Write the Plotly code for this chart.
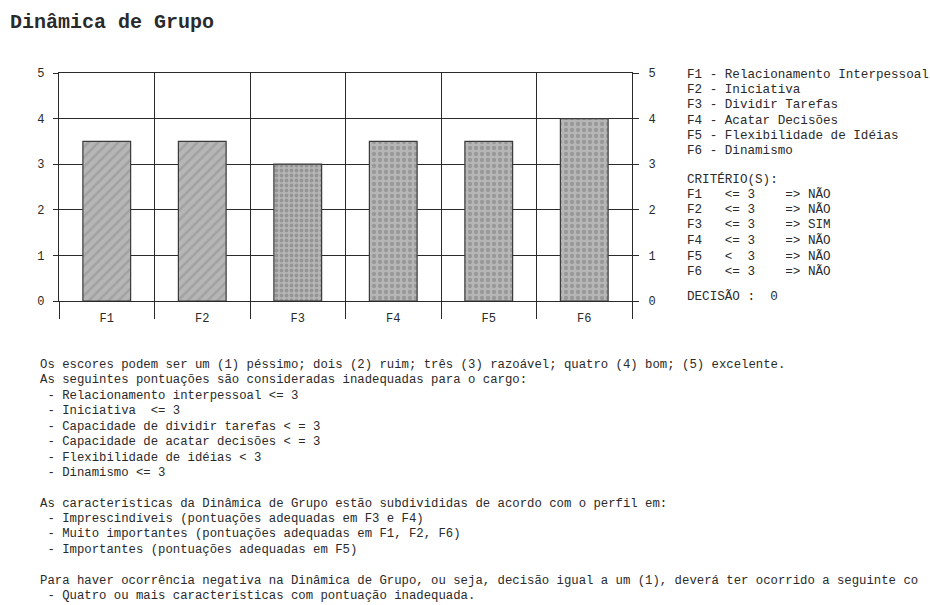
import plotly.graph_objects as go

# ---- data ----
categories = ["F1", "F2", "F3", "F4", "F5", "F6"]
scores = [3.5, 3.5, 3.0, 3.5, 3.5, 4.0]
y_ticks = [0, 1, 2, 3, 4, 5]

legend_lines = [
    "F1 - Relacionamento Interpessoal",
    "F2 - Iniciativa",
    "F3 - Dividir Tarefas",
    "F4 - Acatar Decisões",
    "F5 - Flexibilidade de Idéias",
    "F6 - Dinamismo",
]
criteria_header = "CRITÉRIO(S):"
criteria_ops = ["<= 3", "<= 3", "<= 3", "<= 3", "<  3", "<= 3"]
criteria_result = ["NÃO", "NÃO", "SIM", "NÃO", "NÃO", "NÃO"]
decision = 0

notes_block1 = [
    "Os escores podem ser um (1) péssimo; dois (2) ruim; três (3) razoável; quatro (4) bom; (5) excelente.",
    "As seguintes pontuações são consideradas inadequadas para o cargo:",
    " - Relacionamento interpessoal <= 3",
    " - Iniciativa  <= 3",
    " - Capacidade de dividir tarefas < = 3",
    " - Capacidade de acatar decisões < = 3",
    " - Flexibilidade de idéias < 3",
    " - Dinamismo <= 3",
]
notes_block2 = [
    "As características da Dinâmica de Grupo estão subdivididas de acordo com o perfil em:",
    " - Imprescindíveis (pontuações adequadas em F3 e F4)",
    " - Muito importantes (pontuações adequadas em F1, F2, F6)",
    " - Importantes (pontuações adequadas em F5)",
]
notes_block3 = [
    "Para haver ocorrência negativa na Dinâmica de Grupo, ou seja, decisão igual a um (1), deverá ter ocorrido a seguinte co",
    " - Quatro ou mais características com pontuação inadequada.",
]

# ---- layout geometry (pixels) ----
W, H = 930, 605
L, R, T, B = 59, 632, 73, 301
MONO = "Courier New, Liberation Mono, monospace"
INK = "#2a2a2a"


def px(x):
    return (x - L) / (R - L)


def py(y):
    return (B - y) / (B - T)


def keep_spaces(s):
    return s.replace(" ", "\u00a0")


x_pos = list(range(len(categories)))

fig = go.Figure()

fig.add_trace(go.Bar(
    x=x_pos,
    y=scores,
    width=0.5,
    marker=dict(
        color="#b0b0b0",
        line=dict(color="#3a3a3a", width=1.2),
        pattern=dict(
            shape=["/", "/", ".", ".", ".", "."],
            fgcolor=["#8c8c8c", "#8c8c8c", "#737373", "#7a7a7a", "#7a7a7a", "#7a7a7a"],
            bgcolor="#b6b6b6",
            size=[7, 7, 5, 6, 6, 6],
            solidity=[0.35, 0.35, 0.45, 0.4, 0.4, 0.4],
            fillmode="overlay",
        ),
    ),
    hoverinfo="skip",
    showlegend=False,
))

# invisible companion trace so the right-hand scale is drawn
fig.add_trace(go.Scatter(
    x=x_pos, y=scores, yaxis="y2", mode="markers",
    marker=dict(opacity=0), hoverinfo="skip", showlegend=False,
))

fig.update_layout(
    width=W, height=H,
    margin=dict(l=L, r=W - R, t=T, b=H - B),
    paper_bgcolor="white",
    plot_bgcolor="white",
    bargap=0.5,
    xaxis=dict(
        range=[-0.5, len(categories) - 0.5],
        tickmode="array",
        tickvals=x_pos,
        ticktext=categories,
        ticks="",
        showgrid=False,
        zeroline=False,
        showline=True, mirror=True, linecolor=INK, linewidth=1.3,
        tickfont=dict(family=MONO, size=12, color=INK),
        ticklabelstandoff=5,
        minor=dict(
            tick0=-0.5, dtick=1,
            ticks="outside", ticklen=17, tickcolor=INK, tickwidth=1.3,
            showgrid=True, gridcolor=INK, gridwidth=1.3,
        ),
    ),
    yaxis=dict(
        range=[0, 5],
        tickmode="array",
        tickvals=y_ticks,
        showgrid=True, gridcolor=INK, gridwidth=1.3,
        zeroline=False,
        showline=True, mirror=True, linecolor=INK, linewidth=1.3,
        ticks="outside", ticklen=5, tickcolor=INK, tickwidth=1.3,
        tickfont=dict(family=MONO, size=12, color=INK),
        ticklabelstandoff=6,
    ),
    yaxis2=dict(
        range=[0, 5],
        overlaying="y",
        side="right",
        tickmode="array",
        tickvals=y_ticks,
        showgrid=False, zeroline=False,
        ticks="outside", ticklen=6, tickcolor=INK, tickwidth=1.3,
        tickfont=dict(family=MONO, size=12, color=INK),
        ticklabelstandoff=7,
    ),
)

annotations = []


def add_text(text, x, y, size, bold=False):
    if bold:
        text = "<b>" + text + "</b>"
    annotations.append(dict(
        text=keep_spaces(text),
        x=px(x), y=py(y), xref="paper", yref="paper",
        xanchor="left", yanchor="middle", showarrow=False,
        font=dict(family=MONO, size=size, color=INK),
    ))


# title
add_text("Dinâmica de Grupo", 8, 22, 20, bold=True)

# factor legend
for i, line in enumerate(legend_lines):
    add_text(line, 685, 75 + i * 15.2, 12.6)

# criteria table
add_text(criteria_header, 685, 179, 12.6)
for i, cat in enumerate(categories):
    row = f"{cat}   {criteria_ops[i]}    => {criteria_result[i]}"
    add_text(row, 685, 194.5 + i * 15.4, 12.6)
add_text(f"DECISÃO :  {decision}", 685, 296, 12.6)

# explanatory notes
for i, line in enumerate(notes_block1):
    add_text(line, 38, 365 + i * 15.45, 12.3)
for i, line in enumerate(notes_block2):
    add_text(line, 38, 503.5 + i * 15.45, 12.3)
for i, line in enumerate(notes_block3):
    add_text(line, 38, 580.5 + i * 15.45, 12.3)

fig.update_layout(annotations=annotations)

fig.write_html("out.html")
